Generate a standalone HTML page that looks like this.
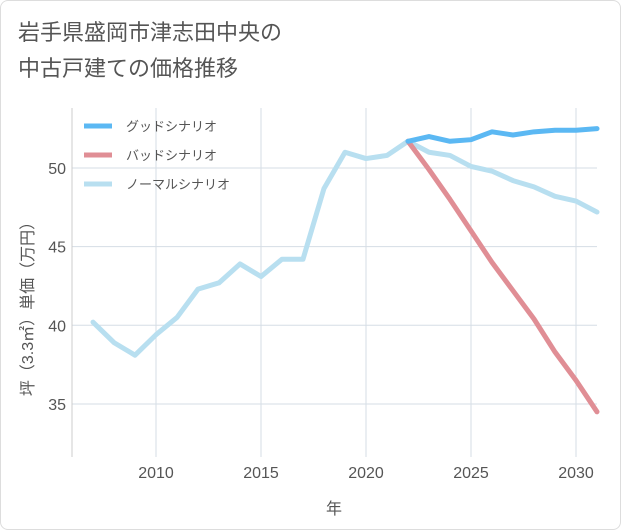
<!DOCTYPE html>
<html><head><meta charset="utf-8"><style>
body{margin:0;background:#fff;font-family:"Liberation Sans","Noto Sans CJK JP",sans-serif;}
#card{position:absolute;left:0;top:0;width:619px;height:528px;border:1px solid #ddd;border-radius:8px;background:#fff;}
</style></head><body>
<div id="card">
<svg id="chart" width="621" height="530" style="position:absolute;left:-1px;top:-1px"></svg>
</div>
<script>
const years=[2007,2008,2009,2010,2011,2012,2013,2014,2015,2016,2017,2018,2019,2020,2021,2022,2023,2024,2025,2026,2027,2028,2029,2030,2031];
const normal=[40.2,38.9,38.1,39.4,40.5,42.3,42.7,43.9,43.1,44.2,44.2,48.7,51.0,50.6,50.8,51.7,51.0,50.8,50.1,49.8,49.2,48.8,48.2,47.9,47.2];
const futureYears=[2022,2023,2024,2025,2026,2027,2028,2029,2030,2031];
const good=[51.7,52.0,51.7,51.8,52.3,52.1,52.3,52.4,52.4,52.5];
const bad=[51.7,49.9,48.0,46.0,44.0,42.2,40.4,38.3,36.5,34.5];
const xTicks=[2010,2015,2020,2025,2030];
const yTicks=[35,40,45,50];
const NS='http://www.w3.org/2000/svg';
const svg=document.getElementById('chart');
const L=72,R=597,T=108,B=457;
const x=v=>L+(v-2006)*(R-L)/25;
const y=v=>168+(50-v)*15.73;
function el(t,a,p){const e=document.createElementNS(NS,t);for(const k in a)e.setAttribute(k,a[k]);(p||svg).appendChild(e);return e;}
const title=el('text',{x:18,y:40,'font-size':22,fill:'#555'});


title.textContent='岩手県盛岡市津志田中央の';
const title2=el('text',{x:18,y:76,'font-size':22,fill:'#555'});


title2.textContent='中古戸建ての価格推移';
xTicks.forEach(v=>{const g=el('line',{x1:x(v),x2:x(v),y1:T,y2:B,stroke:'#d5dde5'});

const t=el('text',{x:x(v),y:478,'font-size':16,fill:'#555','text-anchor':'middle'});
t.textContent=v;});
yTicks.forEach(v=>{const g=el('line',{x1:L,x2:R,y1:y(v),y2:y(v),stroke:'#d5dde5'});

const t=el('text',{x:66,y:y(v)+6,'font-size':16,fill:'#555','text-anchor':'end'});
t.textContent=v;});
const ax=el('line',{x1:L,x2:L,y1:T,y2:B,stroke:'#ccc'});

const xt=el('text',{x:334,y:514,'font-size':16,fill:'#555','text-anchor':'middle'});
xt.textContent='年';
const yt=el('text',{x:0,y:0,'font-size':16,fill:'#555','text-anchor':'middle',transform:'translate(33,305) rotate(-90)'});
yt.textContent='坪（3.3㎡）単価（万円）';
function line(xs,vs,color,name){const p=el('polyline',{points:xs.map((v,i)=>x(v)+','+y(vs[i])).join(' '),fill:'none',stroke:color,'stroke-width':5,'stroke-linejoin':'round','stroke-linecap':'round'});
}
line(years,normal,'#b8dff0','normal-scenario-line');
line(futureYears,bad,'#e08e95','bad-scenario-line');
line(futureYears,good,'#5bb8f3','good-scenario-line');
[['グッドシナリオ','#5bb8f3'],['バッドシナリオ','#e08e95'],['ノーマルシナリオ','#b8dff0']].forEach((d,i)=>{
const yy=126+i*29;
const s=el('line',{x1:84,x2:112,y1:yy,y2:yy,stroke:d[1],'stroke-width':5});

const t=el('text',{x:126,y:yy+5,'font-size':13,fill:'#555'});
t.textContent=d[0];});
</script>
</body></html>
